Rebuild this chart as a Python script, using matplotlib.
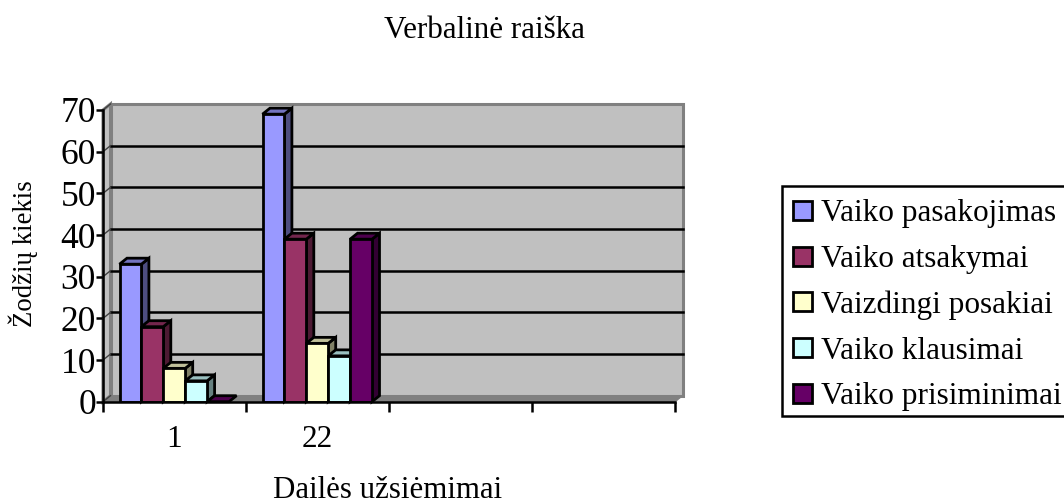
import numpy as np
import matplotlib
matplotlib.use('Agg')
import matplotlib.pyplot as plt
from matplotlib.patches import Polygon, Rectangle

plt.rcParams['font.family'] = ['Liberation Serif', 'DejaVu Serif']

categories = ['1', '22', '', '']
series_names = ['Vaiko pasakojimas', 'Vaiko atsakymai', 'Vaizdingi posakiai',
                'Vaiko klausimai', 'Vaiko prisiminimai']
pasakojimas = [33, 69]
atsakymai = [18, 39]
posakiai = [8, 14]
klausimai = [5, 11]
prisiminimai = [0, 39]
series = [pasakojimas, atsakymai, posakiai, klausimai, prisiminimai]

front = ['#9999FF', '#993366', '#FFFFCC', '#CCFFFF', '#660066']
top = ['#7373BF', '#73264D', '#BFBF99', '#99BFBF', '#4D004D']
side = ['#4D4D80', '#4D1A33', '#808066', '#668080', '#330033']

W, H = 1064, 504
fig = plt.figure(figsize=(W / 100, H / 100), dpi=100)
# front plane of the fake 3d box, pixels
ax = fig.add_axes([103 / W, 1 - 401.7 / H, 572 / W, 291.7 / H])
ax.set_xlim(0, 4)
ax.set_ylim(0, 70)

# depth of the box in data units
dx = 7.5 / 143
dy = 6 * 70 / 291.7


def para(x0, y0, x1, y1, fc, ec='black', lw=2.0, z=3):
    # parallelogram running from (x0,y0)-(x1,y1) back into the depth
    ax.add_patch(Polygon([(x0, y0), (x1, y1), (x1 + dx, y1 + dy), (x0 + dx, y0 + dy)],
                         closed=True, fc=fc, ec=ec, lw=lw, zorder=z, clip_on=False))


# walls
ax.add_patch(Rectangle((dx, dy), 4, 70, fc='#C0C0C0', ec='#808080', lw=2.2, zorder=1, clip_on=False))
para(0, 0, 0, 70, '#C0C0C0', ec='#808080', lw=2.2, z=1)
para(0, 0, 4, 0, '#808080', ec='#808080', lw=1, z=1)

# grid on the back wall
for v in range(10, 70, 10):
    ax.plot([dx, 4 + dx], [v + dy, v + dy], color='black', lw=1.8, zorder=2, clip_on=False)
for v in range(0, 71, 10):
    ax.plot([0, dx], [v, v + dy], color='#404040', lw=1, zorder=2, clip_on=False)

# bars
bar_w = 21.9 / 143
start = 16.5 / 143
for i, vals in enumerate(series):
    for c, v in enumerate(vals):
        x0 = c + start + i * bar_w
        x1 = x0 + bar_w
        if v > 0:
            ax.bar(x0, v, width=bar_w, align='edge', color=front[i], edgecolor='black', lw=2.0, zorder=4)
            para(x1, 0, x1, v, side[i], z=3 + c * 0.01 + i * 0.01)
        para(x0, v, x1, v, top[i], z=3 + c * 0.01 + i * 0.01)

for s in ['top', 'right']:
    ax.spines[s].set_visible(False)
for s in ['left', 'bottom']:
    ax.spines[s].set_linewidth(1.8)
    ax.spines[s].set_zorder(5)
ax.patch.set_alpha(0)

ax.set_yticks(range(0, 71, 10))
ax.set_xticks(range(0, 5))
ax.set_xticklabels([])
ax.tick_params(axis='y', length=5, width=1.8, labelsize=25.5, pad=0)
ax.tick_params(axis='x', length=7, width=1.8)
for c, lab in enumerate(categories):
    ax.annotate(lab, (c + 0.5, 0), xytext=(0, -38), textcoords='offset pixels',
                ha='center', va='center', fontsize=22.5)

fig.text(484 / W, 1 - 31 / H, 'Verbalinė raiška', ha='center', va='center', fontsize=22.3)
fig.text(23 / W, 1 - 254 / H, 'Žodžių kiekis', rotation=90, ha='center', va='center', fontsize=19.3)
fig.text(388 / W, 1 - 490 / H, 'Dailės užsiėmimai', ha='center', va='center', fontsize=22.2)

# legend box by hand, it runs off the right edge like the original
lx0, ly0, ly1 = 782, 186, 416
fig.add_artist(Rectangle((lx0 / W, 1 - ly1 / H), (W + 10 - lx0) / W, (ly1 - ly0) / H,
                         transform=fig.transFigure, fc='white', ec='black', lw=1.8))
for i, name in enumerate(series_names):
    yc = 210.5 + i * 45.7
    fig.add_artist(Rectangle((792.5 / W, 1 - (yc + 9.5) / H), 19 / W, 19 / H,
                             transform=fig.transFigure, fc=front[i], ec='black', lw=2.0))
    fig.text(821 / W, 1 - (yc + 11) / H, name, ha='left', va='baseline', fontsize=22.5)

fig.savefig('out.png', dpi=100)
